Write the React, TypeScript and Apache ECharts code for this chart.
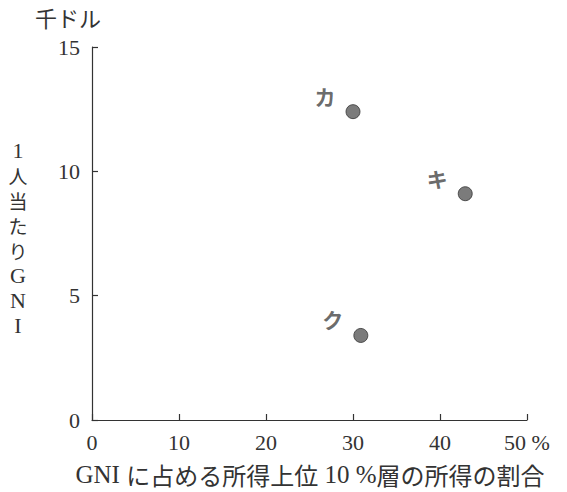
import React, { useEffect, useRef } from "react";
import * as echarts from "echarts";

const pointNames = ["カ", "キ", "ク"];
const shareTop10 = [30, 42.9, 30.9];
const gniPerCapita = [12.4, 9.1, 3.4];
const xTicks = [0, 10, 20, 30, 40, 50];
const yTicks = [0, 5, 10, 15];
const yTitleChars = ["1", "人", "当", "た", "り", "G", "N", "I"];
const yTitleSerif = [true, false, false, false, false, true, true, true];

const serif = "'Liberation Serif', 'DejaVu Serif', serif";
const jp = "'Noto Sans CJK JP', sans-serif";

export default function App() {
  const ref = useRef<HTMLDivElement>(null);
  useEffect(() => {
    if (!ref.current) return;
    const chart = echarts.init(ref.current, undefined, { renderer: "svg" });
    const data = pointNames.map((n, i) => ({ name: n, value: [shareTop10[i], gniPerCapita[i]] }));
    const yTitle = yTitleChars.map((c, i) => ({
      type: "text",
      x: 18,
      y: 150 + i * 25,
      style: {
        text: c,
        fontFamily: yTitleSerif[i] ? serif : jp,
        fontSize: yTitleSerif[i] ? 22 : 19,
        lineHeight: 20,
        fill: "#333",
        align: "center",
        verticalAlign: "middle",
      },
    }));
    chart.setOption({
      animation: false,
      backgroundColor: "#fff",
      grid: { left: 92, top: 47, right: 40, bottom: 72 },
      xAxis: {
        type: "value",
        min: xTicks[0],
        max: xTicks[xTicks.length - 1],
        interval: 10,
        splitLine: { show: false },
        axisLine: { show: true, lineStyle: { color: "#333", width: 1.2 } },
        axisTick: { show: true, inside: true, length: 6, lineStyle: { color: "#333", width: 1.2 } },
        axisLabel: {
          color: "#333",
          fontFamily: serif,
          fontSize: 22,
          margin: 11,
          formatter: (v: number) => (v === 50 ? "50 %" : String(v)),
        },
      },
      yAxis: {
        type: "value",
        min: yTicks[0],
        max: yTicks[yTicks.length - 1],
        interval: 5,
        splitLine: { show: false },
        axisLine: { show: true, lineStyle: { color: "#333", width: 1.2 } },
        axisTick: { show: true, inside: true, length: 6, lineStyle: { color: "#333", width: 1.2 } },
        axisLabel: { color: "#333", fontFamily: serif, fontSize: 22, margin: 12 },
      },
      series: [
        {
          type: "scatter",
          data,
          symbolSize: 14,
          itemStyle: { color: "#5a5a5a", borderColor: "#333", borderWidth: 1 },
          label: {
            show: true,
            formatter: (p: any) => p.name,
            position: "inside",
            offset: [-28, -16],
            color: "#444",
            fontFamily: jp,
            fontSize: 21,
            fontWeight: "bold",
          },
        },
      ],
      graphic: [
        {
          type: "text",
          left: 35,
          top: 6,
          style: { text: "千ドル", fontFamily: jp, fontSize: 22, fill: "#333" },
        },
        ...yTitle,
        {
          type: "text",
          x: 310,
          y: 474,
          style: {
            text: "{a|GNI }{b|に占める所得上位}{a| 10 %}{b|層の所得の割合}",
            fill: "#333",
            align: "center",
            verticalAlign: "middle",
            rich: {
              a: { fontFamily: serif, fontSize: 25, fill: "#333" },
              b: { fontFamily: jp, fontSize: 24, fill: "#333" },
            },
          },
        },
      ],
    });
    return () => chart.dispose();
  }, []);
  return <div ref={ref} style={{ width: 567, height: 492, position: "absolute", left: 0, top: 0 }} />;
}
